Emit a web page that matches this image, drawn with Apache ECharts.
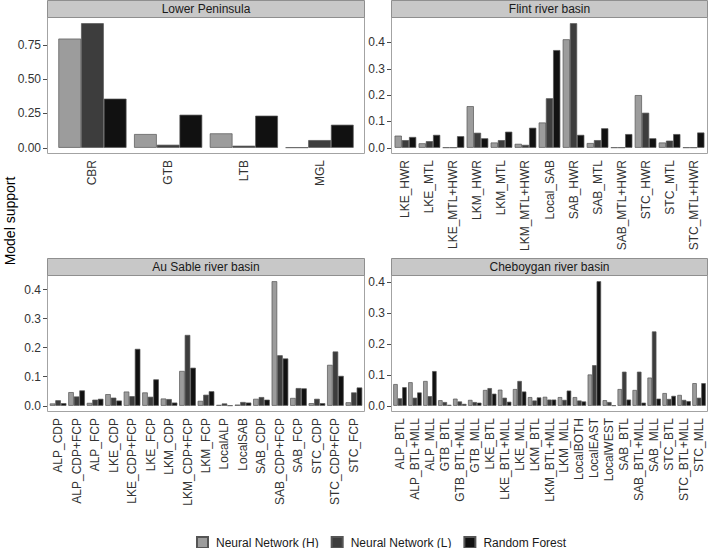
<!DOCTYPE html>
<html>
<head>
<meta charset="utf-8">
<script src="https://cdn.jsdelivr.net/npm/echarts@6/dist/echarts.min.js"></script>
<style>
  html, body { margin: 0; padding: 0; background: #fff; }
  #chart { width: 709px; height: 548px; }
</style>
</head>
<body>
<div id="chart"></div>
<script>
const seriesNames = ['Neural Network (H)', 'Neural Network (L)', 'Random Forest'];
const seriesColors = ['#9c9c9c', '#3d3d3d', '#111111'];

// Lower Peninsula
const lpCats = ['CBR', 'GTB', 'LTB', 'MGL'];
const lpNNH = [0.796, 0.100, 0.105, 0.002];
const lpNNL = [0.908, 0.022, 0.015, 0.056];
const lpRF = [0.358, 0.241, 0.234, 0.168];
const lpTicks = [0, 0.25, 0.5, 0.75];

// Flint river basin
const flCats = ['LKE_HWR', 'LKE_MTL', 'LKE_MTL+HWR', 'LKM_HWR', 'LKM_MTL', 'LKM_MTL+HWR',
  'Local_SAB', 'SAB_HWR', 'SAB_MTL', 'SAB_MTL+HWR', 'STC_HWR', 'STC_MTL', 'STC_MTL+HWR'];
const flNNH = [0.046, 0.017, 0.001, 0.158, 0.020, 0.015, 0.096, 0.412, 0.018, 0.001, 0.200, 0.020, 0.001];
const flNNL = [0.029, 0.025, 0.001, 0.057, 0.029, 0.011, 0.188, 0.473, 0.029, 0.001, 0.133, 0.027, 0.001];
const flRF = [0.041, 0.049, 0.044, 0.036, 0.061, 0.076, 0.371, 0.049, 0.074, 0.052, 0.036, 0.052, 0.058];
const flTicks = [0, 0.1, 0.2, 0.3, 0.4];

// Au Sable river basin
const asCats = ['ALP_CDP', 'ALP_CDP+FCP', 'ALP_FCP', 'LKE_CDP', 'LKE_CDP+FCP', 'LKE_FCP',
  'LKM_CDP', 'LKM_CDP+FCP', 'LKM_FCP', 'LocalALP', 'LocalSAB', 'SAB_CDP', 'SAB_CDP+FCP',
  'SAB_FCP', 'STC_CDP', 'STC_CDP+FCP', 'STC_FCP'];
const asNNH = [0.008, 0.047, 0.010, 0.040, 0.049, 0.046, 0.025, 0.120, 0.017, 0.003, 0.004, 0.024, 0.429, 0.027, 0.009, 0.141, 0.012];
const asNNL = [0.019, 0.032, 0.021, 0.028, 0.033, 0.031, 0.023, 0.244, 0.038, 0.008, 0.013, 0.030, 0.174, 0.061, 0.024, 0.187, 0.046];
const asRF = [0.009, 0.053, 0.024, 0.018, 0.196, 0.091, 0.011, 0.131, 0.050, 0.001, 0.011, 0.021, 0.163, 0.060, 0.009, 0.103, 0.063];
const asTicks = [0, 0.1, 0.2, 0.3, 0.4];

// Cheboygan river basin
const chCats = ['ALP_BTL', 'ALP_BTL+MLL', 'ALP_MLL', 'GTB_BTL', 'GTB_BTL+MLL', 'GTB_MLL',
  'LKE_BTL', 'LKE_BTL+MLL', 'LKE_MLL', 'LKM_BTL', 'LKM_BTL+MLL', 'LKM_MLL', 'LocalBOTH',
  'LocalEAST', 'LocalWEST', 'SAB_BTL', 'SAB_BTL+MLL', 'SAB_MLL', 'STC_BTL', 'STC_BTL+MLL', 'STC_MLL'];
const chNNH = [0.070, 0.076, 0.080, 0.018, 0.023, 0.019, 0.051, 0.052, 0.054, 0.028, 0.029, 0.028, 0.028, 0.101, 0.018, 0.054, 0.051, 0.091, 0.041, 0.035, 0.073];
const chNNL = [0.024, 0.026, 0.031, 0.012, 0.014, 0.012, 0.057, 0.026, 0.080, 0.017, 0.020, 0.019, 0.017, 0.131, 0.012, 0.110, 0.110, 0.240, 0.022, 0.019, 0.026];
const chRF = [0.060, 0.043, 0.112, 0.003, 0.006, 0.010, 0.039, 0.013, 0.046, 0.027, 0.020, 0.049, 0.014, 0.402, 0.001, 0.020, 0.010, 0.023, 0.032, 0.015, 0.073];
const chTicks = [0, 0.1, 0.2, 0.3, 0.4];

const FONT = 'Liberation Sans, Arial, Helvetica, sans-serif';

// 面板位置 [left, top, width, height]
const panels = [
  { title: 'Lower Peninsula', cats: lpCats, values: [lpNNH, lpNNL, lpRF], ticks: lpTicks, digits: 2, box: [47, 17, 318, 137] },
  { title: 'Flint river basin', cats: flCats, values: [flNNH, flNNL, flRF], ticks: flTicks, digits: 1, box: [391, 17, 317, 137] },
  { title: 'Au Sable river basin', cats: asCats, values: [asNNH, asNNL, asRF], ticks: asTicks, digits: 1, box: [47, 275, 318, 137] },
  { title: 'Cheboygan river basin', cats: chCats, values: [chNNH, chNNL, chRF], ticks: chTicks, digits: 1, box: [391, 275, 317, 137] }
];
const STRIP_H = 17;

const grid = [];
const xAxis = [];
const yAxis = [];
const series = [];
const graphic = [];

panels.forEach((p, i) => {
  const [left, top, width, height] = p.box;
  // ggplot 离散轴两端各留 0.6 个单位
  const unit = width / (p.cats.length + 0.2);
  const inset = 0.1 * unit;
  const maxVal = Math.max(...p.values.flat());

  grid.push({ left: left + inset, top: top, width: width - 2 * inset, height: height });

  xAxis.push({
    type: 'category',
    gridIndex: i,
    data: p.cats,
    axisLine: { show: false },
    axisTick: { alignWithLabel: true, length: 4, lineStyle: { color: '#4d4d4d' } },
    axisLabel: { interval: 0, rotate: 90, margin: 6, fontSize: 12, color: '#333', fontFamily: FONT }
  });

  yAxis.push({
    type: 'value',
    gridIndex: i,
    offset: inset,
    min: -0.05 * maxVal,
    max: 1.05 * maxVal,
    splitLine: { show: false },
    axisLine: { show: false },
    axisTick: { show: true, length: 4, customValues: p.ticks, lineStyle: { color: '#4d4d4d' } },
    axisLabel: {
      customValues: p.ticks,
      margin: 6,
      fontSize: 12,
      color: '#333',
      fontFamily: FONT,
      formatter: v => v.toFixed(p.digits)
    }
  });

  p.values.forEach((vals, k) => {
    series.push({
      name: seriesNames[k],
      type: 'bar',
      xAxisIndex: i,
      yAxisIndex: i,
      data: vals,
      barGap: '0%',
      barCategoryGap: '10%',
      itemStyle: { color: seriesColors[k], borderColor: '#555', borderWidth: 0.7 },
      emphasis: { disabled: true },
      animation: false
    });
  });

  // 面板边框与标题条
  graphic.push({
    type: 'rect',
    z: 100,
    shape: { x: left + 0.5, y: top + 0.5, width: width - 1, height: height - 1 },
    style: { fill: 'none', stroke: '#a3a3a3', lineWidth: 1 }
  });
  graphic.push({
    type: 'rect',
    z: 100,
    shape: { x: left + 0.5, y: top - STRIP_H + 0.5, width: width - 1, height: STRIP_H },
    style: { fill: '#c8c8c8', stroke: '#8f8f8f', lineWidth: 1 }
  });
  graphic.push({
    type: 'text',
    z: 101,
    x: left + width / 2,
    y: top - STRIP_H / 2 + 0.5,
    style: {
      text: p.title,
      fill: '#1a1a1a',
      font: '12px ' + FONT,
      align: 'center',
      verticalAlign: 'middle'
    }
  });
});

// y 轴标题
graphic.push({
  type: 'text',
  x: 10,
  y: 221,
  rotation: Math.PI / 2,
  style: {
    text: 'Model support',
    fill: '#000',
    font: '14px ' + FONT,
    align: 'center',
    verticalAlign: 'middle'
  }
});

const chart = echarts.init(document.getElementById('chart'), null, { renderer: 'svg' });
chart.setOption({
  animation: false,
  backgroundColor: '#fff',
  grid: grid,
  xAxis: xAxis,
  yAxis: yAxis,
  series: series,
  graphic: graphic,
  legend: {
    data: seriesNames,
    left: 196,
    top: 536,
    icon: 'rect',
    itemWidth: 11,
    itemHeight: 11,
    itemGap: 12,
    padding: 0,
    selectedMode: false,
    textStyle: { fontSize: 12, color: '#1a1a1a', fontFamily: FONT, padding: [0, 0, 0, 3] }
  }
});
</script>
</body>
</html>
